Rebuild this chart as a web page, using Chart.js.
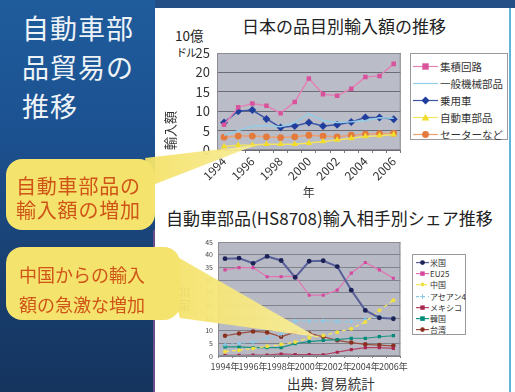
<!DOCTYPE html>
<html>
<head>
<meta charset="utf-8">
<script src="https://cdn.jsdelivr.net/npm/chart.js@4.4.0/dist/chart.umd.min.js"></script>
<style>
  body { margin: 0; width: 515px; height: 392px; position: relative; overflow: hidden; background: #fff;
         font-family: "Noto Sans CJK JP", "Noto Sans", sans-serif; }
  .abs { position: absolute; }
  #leftPanel { left: 0; top: 0; width: 155px; height: 392px;
               background: linear-gradient(180deg, #1f5c9c 0%, #1c5190 35%, #183f70 70%, #15345e 100%); }
  #topStrip { left: 155px; top: 0; width: 360px; height: 8px; background: #244f86; }
  #rightLine { left: 509px; top: 8px; width: 2px; height: 384px; background: #62b4dc; }
  #leftLine { left: 153px; top: 230px; width: 2px; height: 162px; background: #6a4f8e; }
  #slideTitle { left: 22px; top: 8px; color: #eef3f8; font-size: 27px; line-height: 39px; letter-spacing: 1px; }
  .title { color: #222; white-space: nowrap; }
  .legend { background: #fff; border: 1px solid #9a9a9a; box-sizing: border-box; color: #333; }
  .legend .row { display: flex; align-items: center; white-space: nowrap; }
  .legend svg { flex-shrink: 0; }
  .callText { color: #cf5418; white-space: nowrap; }
</style>
</head>
<body>
<div id="leftPanel" class="abs"></div>
<div id="topStrip" class="abs"></div>
<div id="rightLine" class="abs"></div>
<div id="leftLine" class="abs"></div>
<div id="slideTitle" class="abs">自動車部<br>品貿易の<br>推移</div>

<div class="abs title" style="left:242px; top:13px; font-size:17px;">日本の品目別輸入額の推移</div>
<div class="abs title" style="left:175px; top:27px; font-size:13.5px; line-height:16px;">10億</div>
<div class="abs title" style="left:176px; top:44px; font-size:11px; letter-spacing:-1px;">ドル</div>
<canvas id="importChart" class="abs" width="250" height="192" style="left:155px; top:8px;"></canvas>
<div id="importLegend" class="abs legend" style="left:410px; top:53px; width:98px; height:87px; padding:4px 0 0 2px;"></div>

<div class="abs title" style="left:166px; top:205px; font-size:17px;">自動車部品(HS8708)輸入相手別シェア推移</div>
<canvas id="shareChart" class="abs" width="256" height="144" style="left:155px; top:228px;"></canvas>
<div id="shareLegend" class="abs legend" style="left:412px; top:254px; width:54px; height:81px; padding:2px 0 0 3px;"></div>
<div class="abs title" style="left:287px; top:373px; font-size:13.5px; color:#333;">出典:&nbsp;貿易統計</div>

<svg class="abs" style="left:0; top:0;" width="515" height="392">
  <defs>
    <linearGradient id="tailGrad" x1="0" y1="0" x2="1" y2="0">
      <stop offset="0" stop-color="#f4e167"/>
      <stop offset="1" stop-color="#f7ec98"/>
    </linearGradient>
  </defs>
  <polygon points="145,158 256,145 150,186" fill="url(#tailGrad)" opacity="0.95"/>
  <polygon points="160,247 317,337 180,318" fill="url(#tailGrad)" opacity="0.95"/>
  <rect x="6" y="159" width="149" height="71" rx="16" fill="#f4e36c"/>
  <rect x="6" y="247" width="174" height="73" rx="16" fill="#f4e36c"/>
</svg>
<div class="abs callText" style="left:16px; top:174px; font-size:20px; line-height:24px; letter-spacing:0.8px;">自動車部品の<br>輸入額の増加</div>
<div class="abs callText" style="left:19px; top:259px; font-size:18px; line-height:30px;">中国からの輸入<br>額の急激な増加</div>

<script>
// 日本の品目別輸入額の推移 (10億ドル)
const years = ['1994', '1995', '1996', '1997', '1998', '1999', '2000', '2001', '2002', '2003', '2004', '2005', '2006'];
const icData      = [6.5, 11.0, 12.0, 11.4, 9.5, 12.4, 18.4, 14.4, 14.0, 15.8, 18.8, 19.1, 22.2];
const machData    = [3.8, 5.0, 6.1, 6.3, 6.0, 7.0, 9.3, 7.6, 7.1, 7.3, 7.6, 8.3, 8.2];
const carData     = [7.1, 10.0, 10.3, 8.0, 5.8, 6.2, 7.1, 6.2, 6.5, 7.2, 8.4, 8.4, 7.9];
const partsData   = [0.9, 1.2, 1.3, 1.5, 1.5, 1.5, 1.8, 2.2, 2.6, 3.0, 3.5, 3.7, 4.0];
const sweaterData = [3.3, 3.6, 3.6, 3.4, 3.2, 3.4, 3.8, 3.6, 3.4, 3.8, 4.1, 4.2, 4.3];
const importTicks = [0, 5, 10, 15, 20, 25];

// 自動車部品(HS8708)輸入相手別シェア (%)
const shareYears = ['1994年', '1995年', '1996年', '1997年', '1998年', '1999年', '2000年', '2001年', '2002年', '2003年', '2004年', '2005年', '2006年'];
const usData     = [38.4, 38.6, 36.6, 39.3, 37.7, 31.0, 37.4, 37.6, 35.3, 26.0, 18.0, 15.1, 14.7];
const euData     = [34.0, 34.9, 34.9, 31.3, 31.3, 31.5, 24.0, 24.0, 26.0, 32.7, 36.9, 34.0, 30.7];
const chinaData  = [1.7, 2.3, 3.0, 3.8, 4.5, 5.5, 7.2, 8.1, 9.4, 10.8, 13.4, 18.0, 22.0];
const aseanData  = [4.5, 5.0, 5.5, 7.0, 8.5, 13.8, 13.8, 13.9, 13.6, 13.6, 14.5, 15.5, 15.0];
const mexicoData = [0.3, 0.3, 0.4, 0.4, 0.8, 0.6, 0.6, 0.5, 1.5, 2.5, 3.3, 3.3, 3.0];
const koreaData  = [3.6, 3.6, 3.3, 3.3, 3.3, 4.9, 5.7, 6.2, 6.5, 7.0, 7.0, 7.6, 8.0];
const taiwanData = [8.0, 8.9, 9.7, 9.3, 7.6, 9.5, 8.9, 7.6, 6.2, 5.3, 4.6, 4.3, 4.0];

const jpFont = '"Noto Sans CJK JP", "Noto Sans", sans-serif';

// gray plot background with a frame
const plotBg = {
  id: 'plotBg',
  beforeDraw(chart, args, opts) {
    const { ctx, chartArea: a } = chart;
    ctx.save();
    ctx.fillStyle = opts.color;
    ctx.fillRect(a.left, a.top, a.right - a.left, a.bottom - a.top);
    ctx.restore();
  },
  afterDatasetsDraw(chart, args, opts) {
    const { ctx, chartArea: a } = chart;
    ctx.save();
    ctx.strokeStyle = opts.border;
    ctx.lineWidth = 1;
    ctx.strokeRect(a.left + 0.5, a.top + 0.5, a.right - a.left - 1, a.bottom - a.top - 1);
    ctx.restore();
  }
};

function marker(ds, w, h) {
  const cx = w / 2, cy = h / 2, r = ds.pointRadius;
  const c = ds.pointBackgroundColor;
  const st = ds.pointStyle;
  if (!r) return '';
  if (st === 'rect') return `<rect x="${cx - r}" y="${cy - r}" width="${2 * r}" height="${2 * r}" fill="${c}"/>`;
  if (st === 'rectRot') return `<polygon points="${cx},${cy - r} ${cx + r},${cy} ${cx},${cy + r} ${cx - r},${cy}" fill="${c}"/>`;
  if (st === 'triangle') return `<polygon points="${cx},${cy - r} ${cx + r},${cy + r * 0.8} ${cx - r},${cy + r * 0.8}" fill="${c}"/>`;
  if (st === 'cross') return `<path d="M${cx - r} ${cy}H${cx + r}M${cx} ${cy - r}V${cy + r}" stroke="${ds.pointBorderColor}" stroke-width="1"/>`;
  return `<circle cx="${cx}" cy="${cy}" r="${r}" fill="${c}"/>`;
}

function buildLegend(el, datasets, w, h, fontSize, gap) {
  el.innerHTML = datasets.map(ds => {
    const dash = ds.borderDash ? `stroke-dasharray="${ds.borderDash.join(',')}"` : '';
    return `<div class="row" style="height:${h}px; font-size:${fontSize}px;"><svg width="${w}" height="${h}"><line x1="0" y1="${h / 2}" x2="${w}" y2="${h / 2}" stroke="${ds.borderColor}" stroke-width="1.2" ${dash}/>${marker(ds, w, h)}</svg><span style="margin-left:${gap}px">${ds.label}</span></div>`;
  }).join('');
}

function series(label, data, line, fill, style, radius, width, dash) {
  return {
    label: label, data: data,
    borderColor: line, borderWidth: width, borderDash: dash,
    pointStyle: style, pointRadius: radius, pointHoverRadius: radius,
    pointBackgroundColor: fill, pointBorderColor: fill, pointBorderWidth: style === 'cross' ? 1.2 : 0,
    tension: 0, fill: false
  };
}

const importSets = [
  series('集積回路', icData, '#e283b6', '#d9539c', 'rect', 3.2, 1.5),
  series('一般機械部品', machData, '#93cde7', '#93cde7', 'circle', 0, 1.5),
  series('乗用車', carData, '#3a55a6', '#1f3d9c', 'rectRot', 4, 1.5),
  series('自動車部品', partsData, '#f3e460', '#f1dc2c', 'triangle', 3.8, 1.5),
  series('セーターなど', sweaterData, '#ec9f70', '#e47b3d', 'circle', 3.4, 1.5)
];

new Chart(document.getElementById('importChart'), {
  type: 'line',
  data: { labels: years, datasets: importSets },
  plugins: [plotBg],
  options: {
    responsive: false, animation: false,
    layout: { padding: { left: 0, right: 2, top: 45, bottom: 0 } },
    plugins: { legend: { display: false }, tooltip: { enabled: false },
               plotBg: { color: '#babdc8', border: '#8c8c92' } },
    scales: {
      x: {
        offset: true,
        afterFit: s => { s.height = 50; },
        grid: { drawOnChartArea: false, tickLength: 3, color: '#777', offset: true },
        border: { display: false },
        ticks: { autoSkip: false, maxRotation: 45, minRotation: 45, padding: 1,
                 color: '#333', font: { family: jpFont, size: 12 },
                 callback: (v, i) => i % 2 === 0 ? years[i] : '' },
        title: { display: true, text: '年', color: '#333', font: { family: jpFont, size: 12 }, padding: 0 }
      },
      y: {
        min: 0, max: 25,
        afterFit: s => { s.width = 62; },
        afterBuildTicks: s => { s.ticks = importTicks.map(v => ({ value: v })); },
        grid: { color: '#6c6c74', drawTicks: false },
        border: { display: false },
        ticks: { padding: 7, color: '#333', font: { family: jpFont, size: 13 } },
        title: { display: true, text: '輸入額', align: 'start', color: '#333',
                 font: { family: jpFont, size: 13 }, padding: { top: 7, bottom: 0 } }
      }
    }
  }
});
buildLegend(document.getElementById('importLegend'), importSets, 25, 17, 10.5, 2);

const shareSets = [
  series('米国', usData, '#59609a', '#1c2258', 'circle', 2.4, 2),
  series('EU25', euData, '#e274b4', '#d3479c', 'rect', 2.2, 1.2),
  series('中国', chinaData, '#f4e55c', '#f0e040', 'circle', 2, 1.3, [4, 3]),
  series('アセアン4', aseanData, '#8ccbe8', '#8ccbe8', 'cross', 2.4, 1.2, [3, 3]),
  series('メキシコ', mexicoData, '#b34466', '#a8284e', 'rect', 2.2, 1.2),
  series('韓国', koreaData, '#1c9484', '#008a78', 'rect', 2.3, 1.2),
  series('台湾', taiwanData, '#9c4c3a', '#8a3020', 'circle', 2.3, 1.2)
];

new Chart(document.getElementById('shareChart'), {
  type: 'line',
  data: { labels: shareYears, datasets: shareSets },
  plugins: [plotBg],
  options: {
    responsive: false, animation: false,
    layout: { padding: { left: 0, right: 2, top: 14, bottom: 0 } },
    plugins: { legend: { display: false }, tooltip: { enabled: false },
               plotBg: { color: '#b7bac5', border: '#8c8c92' } },
    scales: {
      x: {
        offset: true,
        afterFit: s => { s.height = 16; },
        grid: { drawOnChartArea: false, tickLength: 2, color: '#777', offset: true },
        border: { display: false },
        ticks: { autoSkip: false, maxRotation: 0, minRotation: 0, padding: 3,
                 color: '#444', font: { family: jpFont, size: 9 },
                 callback: (v, i) => i % 2 === 0 ? shareYears[i] : '' }
      },
      y: {
        min: 0, max: 45,
        afterFit: s => { s.width = 63; },
        grid: { color: '#80838c', drawTicks: false },
        border: { display: false },
        ticks: { stepSize: 5, padding: 5, color: '#444', font: { family: jpFont, size: 7 } },
        title: { display: true, text: '割合', color: '#333',
                 font: { family: jpFont, size: 13 }, padding: { top: 20, bottom: 0 } }
      }
    }
  }
});
buildLegend(document.getElementById('shareLegend'), shareSets, 13, 11.2, 8, 1);
</script>
</body>
</html>
